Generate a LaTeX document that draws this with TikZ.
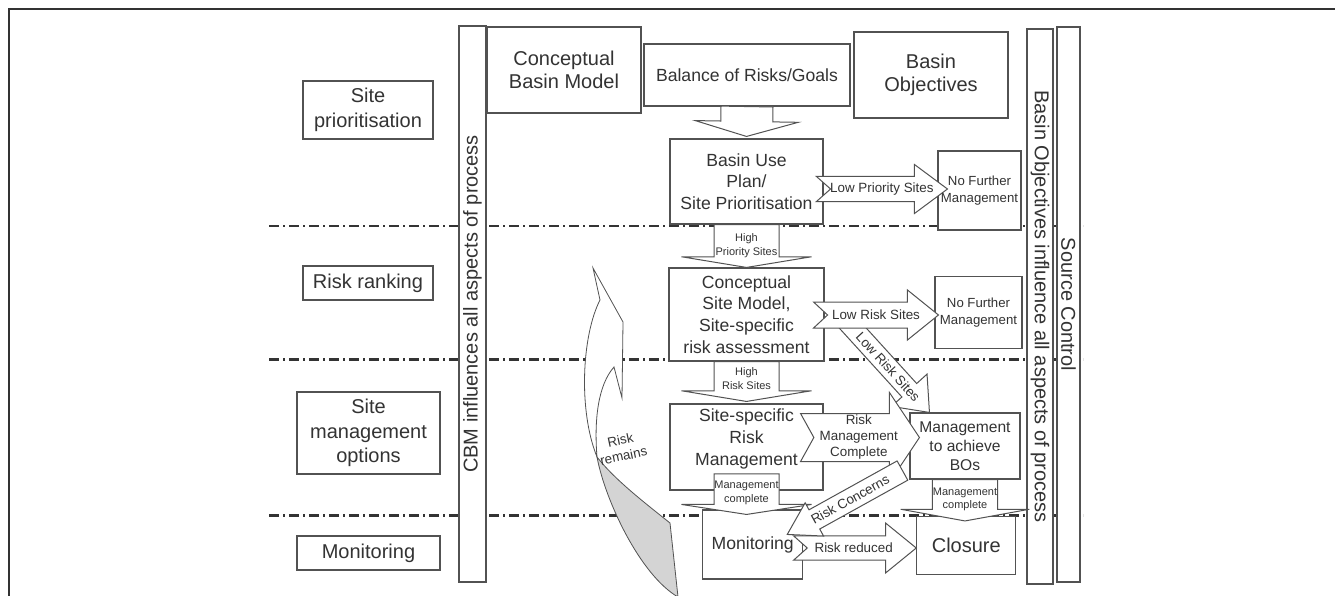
\documentclass[tikz,border=0pt]{standalone}
\usepackage{fontspec}
\setmainfont{Liberation Sans}
\usepackage{tikz}
\usetikzlibrary{calc}
\definecolor{ink}{gray}{0.2}
\definecolor{edge}{gray}{0.32}
\colorlet{ribbon}{black!17}
\tikzstyle{outline}=[draw=ink,line width=2pt]
\tikzstyle{stageline}=[draw=ink,line width=2.1pt,dash pattern=on 10pt off 4pt on 2pt off 4pt]
\tikzstyle{plainbox}=[draw=edge,line width=1.1pt,fill=white,text=ink,align=center,inner sep=0pt]
\tikzstyle{stagebox}=[plainbox,font=\fontsize{20}{24.5}\selectfont]
\tikzstyle{bigbox}=[plainbox,font=\fontsize{20}{23}\selectfont]
\tikzstyle{flowbox}=[plainbox,font=\fontsize{17.6}{21.7}\selectfont]
\tikzstyle{goalbox}=[plainbox,font=\fontsize{15.6}{19}\selectfont]
\tikzstyle{endbox}=[plainbox,font=\fontsize{13.2}{16.7}\selectfont]
\tikzstyle{sidebar}=[plainbox,line width=1.3pt,font=\fontsize{20}{24}\selectfont]
\tikzstyle{lab}=[text=ink,align=center,inner sep=0pt,font=\fontsize{13.4}{16}\selectfont]
\tikzstyle{smalllab}=[lab,font=\fontsize{11}{13.3}\selectfont]
\tikzstyle{barrowline}=[draw=edge,line width=1pt,fill=white,line join=miter]
% block arrow: [label opts]{tail}{tip}{shaft}{head}{head length}{notch}{label}
\newcommand\barrow[8][]{%
  \draw[barrowline] ($(#2)!#4pt!90:(#3)$) -- ($(#3)!#6pt!(#2)!#4pt!-90:(#2)$)
    -- ($(#3)!#6pt!(#2)!#5pt!-90:(#2)$) -- (#3)
    -- ($(#3)!#6pt!(#2)!#5pt!90:(#2)$) -- ($(#3)!#6pt!(#2)!#4pt!90:(#2)$)
    -- ($(#2)!#4pt!-90:(#3)$) -- ($(#2)!#7pt!(#3)$) -- cycle;
  \path (#2) -- node[lab,#1]{#8} (#3);}
\begin{document}
\begin{tikzpicture}[x=1pt,y=-1pt]
\useasboundingbox (0,0) rectangle (1335,596);
\draw[outline] (1335,9) -- (9,9) -- (9,596);
\foreach \y in {226,359.5,515.5}
  \draw[stageline] (269,\y) -- (1083,\y);

\node[sidebar,rotate=90,minimum width=556pt,minimum height=27pt] (cbmbar) at (472.5,304) {CBM influences all aspects of process};
\node[sidebar,rotate=-90,minimum width=555pt,minimum height=26pt] (bobar) at (1040,306.5) {Basin Objectives influence all aspects of process};
\node[sidebar,rotate=-90,minimum width=555pt,minimum height=23pt] (scbar) at (1068.5,304.5) {Source Control};

\node[stagebox,minimum width=130pt,minimum height=58pt] (sp) at (368,110) {Site\\prioritisation};
\node[stagebox,minimum width=130pt,minimum height=34pt] (rr) at (368,283) {Risk ranking};
\node[stagebox,minimum width=143pt,minimum height=82pt] (smo) at (368.5,433) {Site\\management\\options};
\node[stagebox,minimum width=143pt,minimum height=34pt] (mon) at (368.5,553) {Monitoring};

\node[bigbox,minimum width=154pt,minimum height=86pt] (cbm) at (564,70) {Conceptual\\Basin Model};
\node[flowbox,minimum width=206pt,minimum height=62pt] (bal) at (747,75) {Balance of Risks/Goals};
\node[bigbox,minimum width=154pt,minimum height=86pt] (bo) at (931,75) {Basin\\Objectives};

\node[flowbox,minimum width=153pt,minimum height=85pt] (bup) at (746.5,181.5) {Basin Use\\Plan/\\Site Prioritisation};
\node[flowbox,minimum width=155pt,minimum height=93pt] (csm) at (746.5,314.5) {Conceptual\\Site Model,\\Site-specific\\risk assessment};
\node[flowbox,minimum width=153pt,minimum height=86pt] (ssrm) at (746.5,447) {Site-specific\\Risk\\Management\rule[-20pt]{0pt}{0pt}};
\node[flowbox,minimum width=100pt,minimum height=69pt] (monb) at (752.7,544.5) {Monitoring};
\node[goalbox,minimum width=110pt,minimum height=66pt] (mab) at (965,446) {Management\\to achieve\\BOs};
\node[bigbox,minimum width=99pt,minimum height=58pt] (clo) at (966.3,545.5) {Closure};
\node[endbox,minimum width=83pt,minimum height=79pt] (nfm1) at (979.5,190.5) {No Further\\Management};
\node[endbox,minimum width=87pt,minimum height=72pt] (nfm2) at (978.5,312.8) {No Further\\Management};

\filldraw[fill=ribbon,draw=edge,line width=0.8pt] (597,457) .. controls (605,500) and (640,575) .. (678,597)
  -- (670,523) .. controls (645,503) and (615,480) .. (597,457) -- cycle;
\draw[barrowline,line width=0.8pt] (593,268) -- (600,300) .. controls (582,335) and (578,410) .. (597,457)
  .. controls (594,420) and (598,385) .. (614,367) -- (622,398) -- (623,322) -- cycle;
\node[lab,rotate=12] (remains) at (622,448) {Risk\\remains};

\coordinate (balB) at ($(bup.north)+(0,-2)$);
\barrow{bal.south}{balB}{26}{51.5}{15}{0}{}
\barrow[smalllab,pos=.49]{bup.south}{csm.north}{32.5}{65}{10.7}{0}{High\\Priority Sites}
\coordinate (hrsB) at ($(ssrm.north)+(0,-2)$);
\barrow[smalllab,pos=.43]{csm.south}{hrsB}{32.5}{65}{10.7}{0}{High\\Risk Sites}
\coordinate (mc1A) at ($(ssrm.south)+(0,-16.7)$);
\coordinate (mc1B) at ($(ssrm.south |- monb.north)+(0,5)$);
\barrow[smalllab,pos=.465]{mc1A}{mc1B}{32.5}{65}{10}{0}{Management\\complete}
\coordinate (mc2B) at ($(mab.south |- clo.north)+(0,5)$);
\barrow[smalllab,pos=.47]{mab.south}{mc2B}{32.7}{64.3}{11.7}{0}{Management\\complete}

\coordinate (dlrA) at ($(csm.south east)+(15,-48)$);
\coordinate (dlrB) at ($(mab.north west)+(20,0)$);
\barrow[sloped,pos=.54]{dlrA}{dlrB}{10}{24}{30}{0}{Low Risk Sites}
\coordinate (lrsA) at ($(csm.east)+(-11,0.5)$);
\coordinate (lrsB) at ($(nfm2.west)+(4,2.2)$);
\barrow{lrsA}{lrsB}{13}{25}{31}{14}{Low Risk Sites}
\coordinate (lpsA) at ($(bup.east)+(-7.3,7.5)$);
\coordinate (lpsB) at ($(nfm1.west)+(10,-1.5)$);
\barrow{lpsA}{lpsB}{12.7}{24.5}{33}{14.3}{Low Priority Sites}
\coordinate (rmcA) at ($(ssrm.east)+(-23,-9.5)$);
\coordinate (rmcB) at ($(mab.west)+(10,-8.5)$);
\barrow[pos=.49]{rmcA}{rmcB}{24}{45}{30}{13.3}{Risk\\Management\\Complete}
\coordinate (rrA) at ($(monb.east)+(-9.7,3.5)$);
\coordinate (rrB) at ($(clo.west)+(0,2.5)$);
\barrow[pos=.49]{rrA}{rrB}{12.2}{25}{30.7}{13.7}{Risk reduced}
\coordinate (rcA) at ($(mab.south west)+(-7,-9)$);
\coordinate (rcB) at ($(monb.north east)+(-16,25)$);
\barrow[sloped,pos=.455]{rcA}{rcB}{11}{19}{31}{0}{Risk Concerns}
\end{tikzpicture}
\end{document}
